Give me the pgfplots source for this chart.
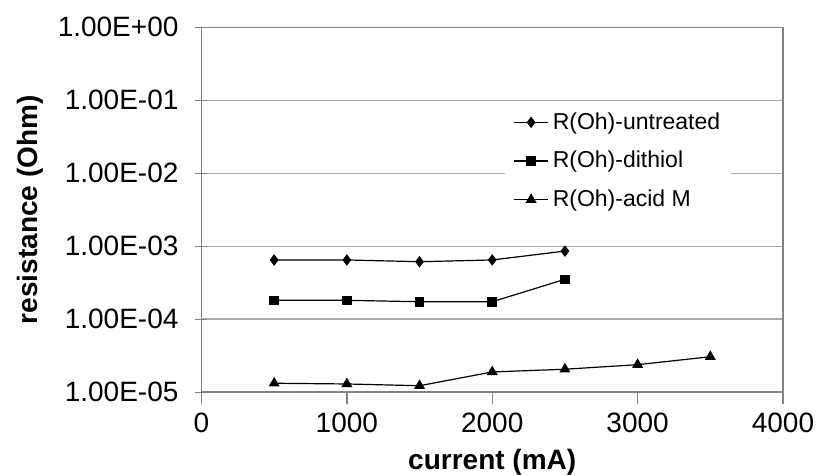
\documentclass[border=0pt]{standalone}
\usepackage{fontspec}
\setmainfont{Liberation Sans}
\usepackage{pgfplots}
\pgfplotsset{compat=1.18}
\definecolor{gridgray}{RGB}{170,170,170}
\definecolor{axgray}{RGB}{130,130,130}
\begin{document}
\begin{tikzpicture}
\begin{axis}[
  scale only axis,
  width=290.75pt, height=182.5pt,
  ymode=log,
  xmin=0, xmax=4000,
  ymin=1e-5, ymax=1,
  xtick={0,1000,2000,3000,4000},
  xticklabels={0,1000,2000,3000,4000},
  ytick={1e-5,1e-4,1e-3,1e-2,1e-1,1},
  yticklabels={1.00E-05,1.00E-04,1.00E-03,1.00E-02,1.00E-01,1.00E+00},
  minor ytick={},
  log basis y=10,
  ymajorgrids,
  major grid style={gridgray, line width=0.8pt},
  axis line style={axgray, line width=0.8pt},
  every tick/.style={axgray, line width=0.7pt},
  xtick pos=bottom, ytick pos=left,
  xtick align=outside, ytick align=center,
  major tick length=6pt,
  tick label style={font=\fontsize{14}{16}\selectfont},
  /pgf/number format/assume math mode=true,
  xticklabel style={yshift=-1pt},
  yticklabel style={xshift=-5pt},
  xlabel={\textbf{current (mA)}},
  ylabel={\textbf{resistance (Ohm)}},
  label style={font=\fontsize{14}{16}\selectfont},
  xlabel style={at={(axis description cs:0.5,-0.191)}, anchor=center},
  ylabel style={at={(axis description cs:-0.295,0.5)}, anchor=center, rotate=0},
  legend style={at={(axis description cs:0.522,0.795)}, anchor=north west,
    draw=none, fill=white, font=\fontsize{11.5}{13}\selectfont,
    row sep=5.5pt, inner xsep=4pt, inner ysep=3pt},
  legend cell align=left,
  every axis plot/.append style={black, line width=0.6pt},
]
\addplot[mark=diamond*, mark size=2.4pt] coordinates {
  (500,6.5e-4) (1000,6.5e-4) (1500,6.15e-4) (2000,6.5e-4) (2500,8.6e-4)};
\addlegendentry{R(Oh)-untreated}
\addplot[mark=square*, mark size=2.1pt] coordinates {
  (500,1.82e-4) (1000,1.82e-4) (1500,1.74e-4) (2000,1.74e-4) (2500,3.53e-4)};
\addlegendentry{R(Oh)-dithiol}
\addplot[mark=triangle*, mark size=2.6pt] coordinates {
  (500,1.33e-5) (1000,1.30e-5) (1500,1.23e-5) (2000,1.90e-5) (2500,2.07e-5) (3000,2.39e-5) (3500,3.07e-5)};
\addlegendentry{R(Oh)-acid M}
\end{axis}
\pgfresetboundingbox
\path[use as bounding box] (-100.75pt,-41.35pt) rectangle (307.25pt,196.15pt);
\end{tikzpicture}
\end{document}
